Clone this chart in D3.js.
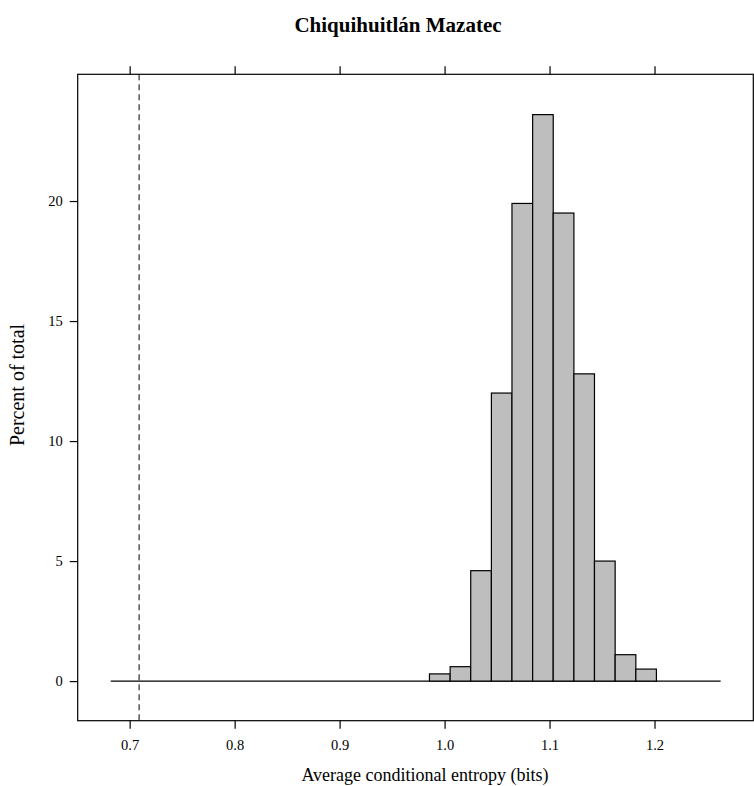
<!DOCTYPE html>
<html>
<head>
<meta charset="utf-8">
<script src="https://cdn.jsdelivr.net/npm/d3@7"></script>
<style>
  body { margin: 0; background: #fff; }
  svg { display: block; }
  text { font-family: "Liberation Serif", "DejaVu Serif", serif; fill: #000; }
</style>
</head>
<body>
<script>
// Histogram of average conditional entropy, lattice style

// bin edges of the non-empty bins (bits)
var binEdges = [0.9856, 1.0053, 1.0249, 1.0446, 1.0642, 1.0839, 1.1035, 1.1232, 1.1428, 1.1625, 1.1822, 1.2018];
// percent of total in each bin
var percents = [0.3, 0.6, 4.6, 12.0, 19.9, 23.6, 19.5, 12.8, 5.0, 1.1, 0.5];
// full range covered by the breaks (empty bins drawn flat)
var breakRange = [0.682, 1.263];
// observed value (dashed reference line)
var observed = 0.709;

var xTicks = [0.7, 0.8, 0.9, 1.0, 1.1, 1.2];
var yTicks = [0, 5, 10, 15, 20];

var W = 754, H = 786;
var plot = {left: 77.7, right: 753.3, top: 74.3, bottom: 720.7};

var bins = percents.map((p, i) => ({x0: binEdges[i], x1: binEdges[i + 1], pct: p}));

var xScale = d3.scaleLinear()
    .domain([0.6505, 1.2941])
    .range([plot.left, plot.right]);
var yScale = d3.scaleLinear()
    .domain([-1.65, 25.28])
    .range([plot.bottom, plot.top]);

var svg = d3.select("body").append("svg")
    .attr("width", W)
    .attr("height", H);

// title
svg.append("text")
   .attr("x", 398)
   .attr("y", 32)
   .attr("text-anchor", "middle")
   .style("font-size", "21px")
   .style("font-weight", "bold")
   .text("Chiquihuitlán Mazatec");

// flat line for the empty bins
svg.append("line")
   .attr("x1", xScale(breakRange[0]))
   .attr("x2", xScale(breakRange[1]))
   .attr("y1", yScale(0))
   .attr("y2", yScale(0))
   .attr("stroke", "#000")
   .attr("stroke-width", 1.2);

// bars
svg.selectAll(".bar")
   .data(bins)
   .enter()
   .append("rect")
   .attr("class", "bar")
   .attr("x", d => xScale(d.x0))
   .attr("width", d => xScale(d.x1) - xScale(d.x0))
   .attr("y", d => yScale(d.pct))
   .attr("height", d => yScale(0) - yScale(d.pct))
   .attr("fill", "#bebebe")
   .attr("stroke", "#000")
   .attr("stroke-width", 1.2);

// dashed reference line
svg.append("line")
   .attr("x1", xScale(observed))
   .attr("x2", xScale(observed))
   .attr("y1", plot.top)
   .attr("y2", plot.bottom)
   .attr("stroke", "#000")
   .attr("stroke-width", 1)
   .attr("stroke-dasharray", "6,4");

// panel border
svg.append("rect")
   .attr("x", plot.left)
   .attr("y", plot.top)
   .attr("width", plot.right - plot.left)
   .attr("height", plot.bottom - plot.top)
   .attr("fill", "none")
   .attr("stroke", "#000")
   .attr("stroke-width", 1.2);

// bottom axis with labels
var xAxis = d3.axisBottom(xScale)
    .tickValues(xTicks)
    .tickFormat(d3.format(".1f"))
    .tickSize(8)
    .tickSizeOuter(0);
var gx = svg.append("g")
    .attr("transform", "translate(0," + plot.bottom + ")")
    .call(xAxis);
gx.select(".domain").remove();
gx.selectAll("text").attr("dy", null).attr("y", 29).style("font-size", "14.5px").style("font-family", "Liberation Serif");

// top axis, ticks only
var gxt = svg.append("g")
    .attr("transform", "translate(0," + plot.top + ")")
    .call(d3.axisTop(xScale).tickValues(xTicks).tickSize(8).tickFormat(""));
gxt.select(".domain").remove();

// left axis
var yAxis = d3.axisLeft(yScale)
    .tickValues(yTicks)
    .tickSize(8)
    .tickSizeOuter(0);
var gy = svg.append("g")
    .attr("transform", "translate(" + plot.left + ",0)")
    .call(yAxis);
gy.select(".domain").remove();
gy.selectAll("text").attr("x", -15).style("font-size", "14.5px").style("font-family", "Liberation Serif");

svg.selectAll(".tick line").attr("stroke", "#000").attr("stroke-width", 1.2);

// axis titles
svg.append("text")
   .attr("x", 425)
   .attr("y", 781)
   .attr("text-anchor", "middle")
   .style("font-size", "18px")
   .text("Average conditional entropy (bits)");

svg.append("text")
   .attr("transform", "translate(24,385) rotate(-90)")
   .attr("text-anchor", "middle")
   .style("font-size", "20px")
   .text("Percent of total");
</script>
</body>
</html>
